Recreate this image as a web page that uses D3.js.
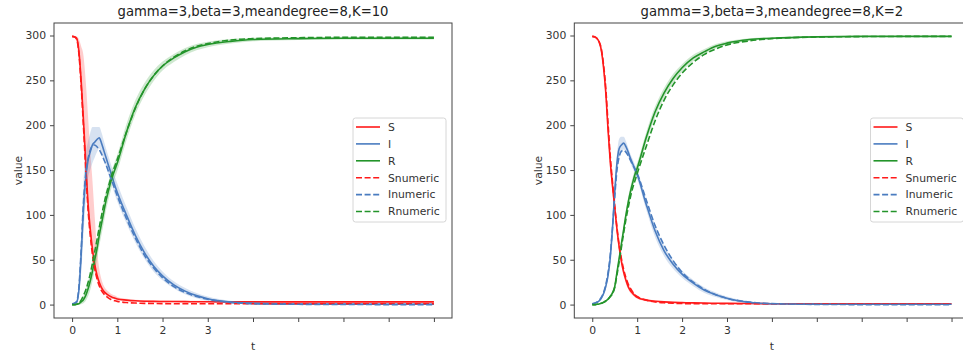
<!DOCTYPE html>
<html>
<head>
<meta charset="utf-8">
<script src="https://cdn.jsdelivr.net/npm/d3@7"></script>
<style>
  body { margin: 0; background: #fff; }
  svg { display: block; font-family: "DejaVu Sans", sans-serif; }
</style>
</head>
<body>
<div id="chart"></div>
<script>
// time grid shared by every series
const T = [0, 0.05, 0.1, 0.15, 0.2, 0.25, 0.3, 0.35, 0.4, 0.45, 0.5, 0.55, 0.6, 0.65, 0.7, 0.75, 0.8, 0.85, 0.9, 0.95,
  1.0, 1.2, 1.4, 1.6, 1.8, 2.0, 2.25, 2.5, 2.75, 3.0, 3.5, 4.0, 5, 6, 7, 8];

const xTicks = [0, 1, 2, 3, 4, 5, 6, 7, 8];
const xTickLabels = ['0', '1', '2', '3', '', '', '', '', ''];
const yTicks = [0, 50, 100, 150, 200, 250, 300];

// K=10 panel: simulation means, confidence band, numeric solution
const S10 = [299, 298.5, 297, 283, 250, 207, 160, 115, 85, 62, 45, 33, 25, 19, 15, 12.5, 10.5, 9, 8, 7, 6.3, 5, 4.2, 3.8, 3.6, 3.5, 3.4, 3.3, 3.2, 3.1, 3, 3, 3, 3, 3, 3];
const S10hi = [299.5, 299.5, 299, 296, 288, 278, 250, 212, 172, 138, 98, 62, 40, 28, 21, 17, 14.5, 12.5, 11, 10, 8.5, 6.5, 5.5, 5, 4.7, 4.5, 4.4, 4.3, 4.2, 4.1, 4, 4, 4, 4, 4, 4];
const S10lo = [298.5, 297.5, 294, 270, 232, 190, 143, 100, 72, 51, 37, 27, 20, 15, 12, 10, 8.5, 7.3, 6.5, 5.8, 5.2, 4, 3.3, 2.9, 2.7, 2.6, 2.5, 2.4, 2.3, 2.2, 2.1, 2, 2, 2, 2, 2];
const I10 = [1, 1.3, 2.6, 16, 55, 105, 140, 160, 170, 178, 181, 184, 186, 180, 172, 164, 156, 148, 140, 132, 125, 100, 77, 58, 43, 32, 22, 15, 10, 6.5, 2.8, 1.4, 0.7, 0.5, 0.4, 0.4];
const I10hi = [1, 1.8, 4.1, 24, 77, 135, 167, 181, 191, 198, 198, 198, 198, 192, 183, 174, 166, 158, 150, 142, 135, 109, 85, 65, 49, 37, 26, 18.5, 13, 9, 4.3, 2.4, 1.5, 1.1, 0.9, 0.9];
const I10lo = [1, 0.8, 1.1, 9, 34, 76, 115, 140, 150, 158, 164, 170, 174, 168, 161, 154, 146, 138, 130, 122, 115, 91, 69, 51, 37, 27, 18, 11.5, 7, 4, 1.3, 0.4, 0, 0, 0, 0];
const R10 = [0, 0, 0.3, 1, 3, 5.5, 10, 17, 26, 37, 50, 62, 77, 90, 103, 116, 126, 136, 144, 151, 158, 192, 220, 240, 255, 266, 275, 282, 287, 290, 293.5, 295.5, 296.5, 297, 297, 297];
const R10hi = [0, 0, 0.6, 2, 5.5, 9.5, 16, 25, 36, 48, 62, 74, 89, 102, 115, 127, 136, 146, 153, 160, 167, 201, 228, 247, 261, 271, 279.5, 286, 290.5, 293, 296, 297.5, 298, 298.5, 298.5, 298.5];
const R10lo = [0, 0, 0, 0, 0.5, 1.5, 4, 9, 16, 26, 38, 50, 65, 78, 91, 105, 116, 126, 135, 142, 149, 183, 212, 233, 249, 261, 270.5, 278, 283.5, 287, 291, 293.5, 295, 295.5, 295.5, 295.5];
const S10num = [299, 298.5, 296, 280, 245, 200, 152, 108, 78, 56, 40, 29, 21, 15.5, 12, 9.5, 7.5, 6, 5, 4.2, 3.6, 2.3, 1.7, 1.4, 1.2, 1.1, 1, 1, 1, 1, 1, 1, 1, 1, 1, 1];
const I10num = [1, 1.5, 3.5, 19, 60, 112, 145, 162, 172, 177, 178, 176, 173, 168, 162, 156, 149, 142, 135, 128, 121, 96, 74, 55, 41, 30, 20, 13.5, 9, 6, 2.5, 1, 0.3, 0.1, 0, 0];
const R10num = [0, 0, 0.5, 2, 5, 10, 16, 24, 34, 46, 59, 72, 86, 99, 111, 122, 131, 140, 148, 155, 162, 192, 219, 240, 255, 266, 276, 283, 288, 291, 295, 296.5, 297.5, 298, 298, 298];

// K=2 panel
const S2 = [299, 298.5, 297, 293, 284, 265, 237, 196, 160, 133, 108, 84, 64, 48, 36, 27, 20, 15.5, 12.5, 10, 8, 5, 3.8, 3, 2.5, 2.2, 1.9, 1.7, 1.5, 1.4, 1.2, 1, 1, 1, 1, 1];
const S2hi = [299.3, 299, 298, 295, 288, 271, 245, 206, 169, 141, 116, 91, 70, 53, 40, 30.5, 23, 18, 14.5, 11.8, 9.5, 6.2, 4.8, 4, 3.3, 3, 2.6, 2.4, 2.1, 2, 1.7, 1.5, 1.5, 1.5, 1.5, 1.5];
const S2lo = [298.7, 298, 296, 291, 280, 259, 229, 186, 151, 125, 100, 77, 58, 43, 32, 23.5, 17, 13, 10.5, 8.2, 6.5, 3.8, 2.8, 2, 1.7, 1.4, 1.2, 1, 0.9, 0.8, 0.7, 0.5, 0.5, 0.5, 0.5, 0.5];
const I2 = [1, 1.5, 2.5, 4, 7, 12, 20, 32, 52, 85, 125, 158, 174, 178, 180, 176, 170, 163, 157, 151, 145, 112, 82, 60, 45, 34, 24, 16, 11, 7, 2.5, 1, 0.5, 0.3, 0.3, 0.3];
const I2hi = [1, 1.8, 3, 5, 8.5, 14, 23, 36, 58, 93, 134, 168, 185, 187, 187, 182, 175, 168, 162, 156, 150, 118, 89, 66, 50, 38, 27.5, 19, 13.5, 9, 3.5, 1.5, 1, 0.6, 0.6, 0.6];
const I2lo = [1, 1.2, 2, 3, 5.5, 10, 17, 28, 46, 77, 116, 148, 163, 169, 173, 170, 165, 158, 152, 146, 140, 106, 75, 54, 40, 30, 20.5, 13, 8.5, 5, 1.5, 0.5, 0, 0, 0, 0];
const R2 = [0, 0, 0.3, 0.7, 1.5, 2.5, 4, 6, 9, 13, 20, 36, 52, 68, 84, 100, 114, 126, 136, 145, 152, 186, 215, 236, 252, 264, 275, 282, 288, 291.5, 295.5, 297, 298.5, 299, 299, 299];
const R2hi = [0, 0, 0.5, 1, 2, 3.2, 5, 7.5, 11, 15.5, 23, 39.5, 56, 72.5, 89, 105.5, 120, 132, 142, 151, 158, 192, 221, 241.5, 257, 268, 278.5, 285, 290.5, 293.5, 297, 298, 299.2, 299.7, 299.7, 299.7];
const R2lo = [0, 0, 0.1, 0.4, 1, 1.8, 3, 4.5, 7, 10.5, 17, 32.5, 48, 63.5, 79, 94.5, 108, 120, 130, 139, 146, 180, 209, 230.5, 247, 260, 271.5, 279, 285.5, 289.5, 294, 296, 297.8, 298.3, 298.3, 298.3];
const S2num = [299, 298.5, 297, 293.5, 285.5, 268, 242, 203, 166, 137, 110, 86, 66, 51, 39, 30, 23, 18, 14, 11, 9, 5, 3, 2, 1.5, 1.2, 1, 1, 1, 1, 1, 1, 1, 1, 1, 1];
const I2num = [1, 1.6, 2.7, 4.5, 8, 13, 22, 35, 55, 85, 120, 150, 165, 171, 172, 170, 166, 161, 156, 151, 146, 117, 88, 66, 49, 36, 25, 17, 11, 7, 2.8, 1.1, 0.2, 0, 0, 0];
const R2num = [0, 0, 0.3, 0.7, 1.5, 2.5, 4, 6, 9, 12, 19, 33, 48, 64, 80, 95, 108, 120, 130, 138, 146, 176, 205, 228, 245, 258, 270, 279, 285, 289.5, 294, 296.5, 298.3, 298.8, 299, 299];

const legendLabels = ['S', 'I', 'R', 'Snumeric', 'Inumeric', 'Rnumeric'];
const COLORS = { S: '#ff1a1a', I: '#4a7cc0', R: '#23942a' };

const W = 963, H = 354;
const TOP = 23, BOTTOM = 318;

const svg = d3.select('#chart').append('svg').attr('width', W).attr('height', H);

function drawPanel(p) {
  const x = d3.scaleLinear().domain([-0.4, 8.4]).range([p.left, p.right]);
  const y = d3.scaleLinear().domain([-14.95, 313.95]).range([BOTTOM, TOP]);
  const g = svg.append('g');

  const band = (lo, hi) => d3.area()
    .x((d, i) => x(T[i]))
    .y0((d, i) => y(lo[i]))
    .y1((d, i) => y(hi[i]))
    .curve(d3.curveMonotoneX)(T);
  const line = vals => d3.line()
    .x((d, i) => x(T[i]))
    .y((d, i) => y(vals[i]))
    .curve(d3.curveMonotoneX)(T);

  ['S', 'I', 'R'].forEach(k => {
    const s = p.series[k];
    g.append('path').attr('d', band(s.lo, s.hi))
      .attr('fill', COLORS[k]).attr('fill-opacity', 0.22).attr('stroke', 'none');
    g.append('path').attr('d', line(s.mean))
      .attr('fill', 'none').attr('stroke', COLORS[k]).attr('stroke-width', 1.6);
  });
  ['S', 'I', 'R'].forEach(k => {
    g.append('path').attr('d', line(p.series[k].num))
      .attr('fill', 'none').attr('stroke', COLORS[k]).attr('stroke-width', 1.6)
      .attr('stroke-dasharray', '6,2.6');
  });

  // frame
  g.append('rect')
    .attr('x', p.left).attr('y', TOP)
    .attr('width', p.right - p.left).attr('height', BOTTOM - TOP)
    .attr('fill', 'none').attr('stroke', '#444').attr('stroke-width', 1);

  const xAxis = g.append('g').attr('transform', `translate(0,${BOTTOM})`)
    .call(d3.axisBottom(x).tickValues(xTicks).tickSize(4).tickPadding(4)
      .tickFormat((d, i) => xTickLabels[i]));
  const yAxis = g.append('g').attr('transform', `translate(${p.left},0)`)
    .call(d3.axisLeft(y).tickValues(yTicks).tickSize(4).tickPadding(4));
  [xAxis, yAxis].forEach(a => {
    a.select('.domain').remove();
    a.selectAll('line').attr('stroke', '#444');
    a.selectAll('text').attr('fill', '#333').style('font-size', '10.8px')
      .style('font-family', '"DejaVu Sans", sans-serif');
  });

  const cx = (p.left + p.right) / 2;
  g.append('text').attr('x', cx).attr('y', 16).attr('text-anchor', 'middle')
    .attr('fill', '#222').style('font-size', '13.2px').text(p.title);
  g.append('text').attr('x', cx).attr('y', 350).attr('text-anchor', 'middle')
    .attr('fill', '#333').style('font-size', '10.8px').text('t');
  g.append('text').attr('transform', `translate(${p.left - 36},${(TOP + BOTTOM) / 2}) rotate(-90)`)
    .attr('text-anchor', 'middle').attr('dy', '0.35em')
    .attr('fill', '#333').style('font-size', '10.8px').text('value');

  // legend
  const lw = 93, lh = 104;
  const lx = p.right - 6 - lw, ly = 118;
  const lg = g.append('g').attr('transform', `translate(${lx},${ly})`);
  lg.append('rect').attr('width', lw).attr('height', lh).attr('rx', 2.5)
    .attr('fill', '#fff').attr('fill-opacity', 0.85).attr('stroke', '#d6d6d6');
  legendLabels.forEach((lab, i) => {
    const key = lab[0];
    const yy = 9 + i * 16.9;
    lg.append('line').attr('x1', 3).attr('x2', 27).attr('y1', yy).attr('y2', yy)
      .attr('stroke', COLORS[key]).attr('stroke-width', 1.6)
      .attr('stroke-dasharray', i >= 3 ? '6,2.6' : null);
    lg.append('text').attr('x', 35).attr('y', yy).attr('dy', '0.36em')
      .attr('fill', '#333').style('font-size', '10.8px').text(lab);
  });
}

const panels = [
  {
    left: 54, right: 452, title: 'gamma=3,beta=3,meandegree=8,K=10',
    series: {
      S: { mean: S10, lo: S10lo, hi: S10hi, num: S10num },
      I: { mean: I10, lo: I10lo, hi: I10hi, num: I10num },
      R: { mean: R10, lo: R10lo, hi: R10hi, num: R10num }
    }
  },
  {
    left: 574.3, right: 969.5, title: 'gamma=3,beta=3,meandegree=8,K=2',
    series: {
      S: { mean: S2, lo: S2lo, hi: S2hi, num: S2num },
      I: { mean: I2, lo: I2lo, hi: I2hi, num: I2num },
      R: { mean: R2, lo: R2lo, hi: R2hi, num: R2num }
    }
  }
];

panels.forEach(drawPanel);
</script>
</body>
</html>
